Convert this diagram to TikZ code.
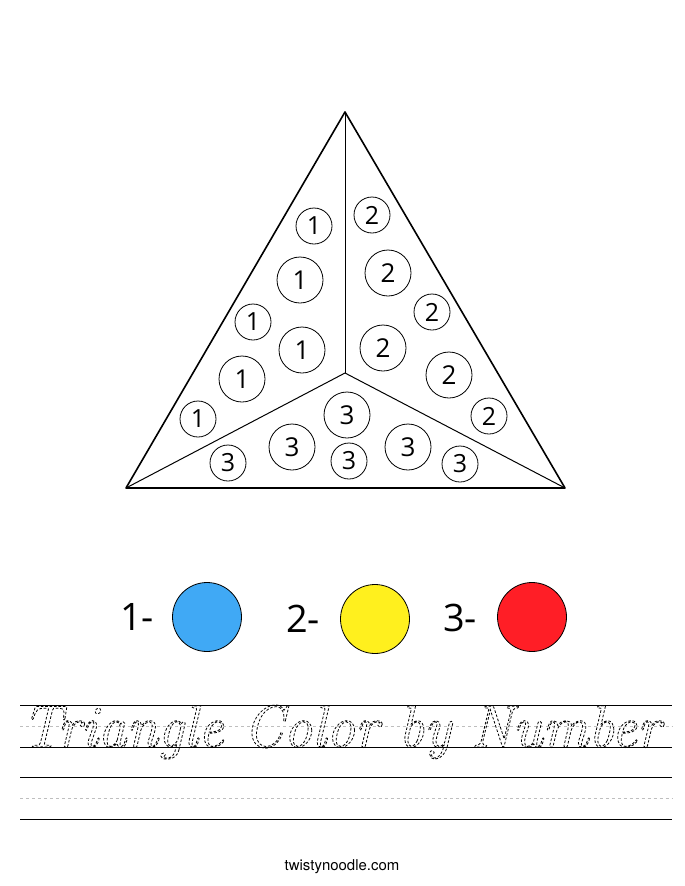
\documentclass[tikz,border=0pt]{standalone}
\usepackage{fontspec}
\setmainfont{Open Sans}
\newfontfamily\cursivefont[FakeStretch=0.955]{Latin Modern Roman}
\newfontfamily\sitefont{TeX Gyre Heros}
\definecolor{keyblue}{RGB}{64,169,245}
\definecolor{keyyellow}{RGB}{255,240,30}
\definecolor{keyred}{RGB}{255,30,38}
\definecolor{guidegray}{RGB}{190,190,190}
\tikzset{
    numcirc/.style={draw,circle,inner sep=0pt,line width=0.8bp,font=\fontsize{#1}{#1}\selectfont},
    smallcirc/.style={numcirc=25bp,minimum size=36bp},
    largecirc/.style={numcirc=26bp,minimum size=46bp},
    keycirc/.style={draw,circle,inner sep=0pt,minimum size=69bp,line width=0.8bp},
    keylabel/.style={font=\fontsize{38}{38}\selectfont,anchor=center},
    ruleline/.style={line width=0.9bp},
    guideline/.style={guidegray,dashed,line width=0.8bp},
    outeredge/.style={line width=1.6bp,line join=round},
    inneredge/.style={line width=1bp}
}
\begin{document}
\begin{tikzpicture}[x=1bp,y=-1bp]
    \useasboundingbox (0,0) rectangle (685,886);

    \coordinate (apex) at (345,112);
    \coordinate (left) at (126,488);
    \coordinate (right) at (565,488);
    \coordinate (mid) at (345,373);

    \draw[inneredge] (apex) -- (mid);
    \draw[inneredge] (left) -- (mid);
    \draw[inneredge] (right) -- (mid);
    \draw[outeredge] (apex) -- (left) -- (right) -- cycle;

    \node[smallcirc] (a1) at (314,226) {1};
    \node[largecirc] (a2) at (300,280) {1};
    \node[smallcirc] (a3) at (253,322) {1};
    \node[largecirc] (a4) at (302,350) {1};
    \node[largecirc] (a5) at (242,379) {1};
    \node[smallcirc] (a6) at (198,419) {1};

    \node[smallcirc] (b1) at (372,215) {2};
    \node[largecirc] (b2) at (388,273) {2};
    \node[smallcirc] (b3) at (432,312) {2};
    \node[largecirc] (b4) at (383,348) {2};
    \node[largecirc] (b5) at (449,375) {2};
    \node[smallcirc] (b6) at (489,416) {2};

    \node[largecirc] (c1) at (347,415) {3};
    \node[smallcirc] (c2) at (228,463) {3};
    \node[largecirc] (c3) at (292,447) {3};
    \node[smallcirc] (c4) at (349,461) {3};
    \node[largecirc] (c5) at (408,447) {3};
    \node[smallcirc] (c6) at (460,464) {3};

    \node[keylabel] (k1) at (137,617) {1-};
    \node[keycirc,fill=keyblue] (d1) at (207,617) {};
    \node[keylabel] (k2) at (303,619) {2-};
    \node[keycirc,fill=keyyellow] (d2) at (375,619) {};
    \node[keylabel] (k3) at (460,618) {3-};
    \node[keycirc,fill=keyred] (d3) at (532,617) {};

    \coordinate (r1l) at (20,705);
    \coordinate (r1r) at (672,705);
    \coordinate (r2l) at (20,747);
    \coordinate (r2r) at (672,747);
    \coordinate (r3l) at (20,777);
    \coordinate (r3r) at (672,777);
    \coordinate (r4l) at (20,819);
    \coordinate (r4r) at (672,819);
    \coordinate (g1l) at (20,726);
    \coordinate (g1r) at (672,726);
    \coordinate (g2l) at (20,798);
    \coordinate (g2r) at (672,798);

    \draw[ruleline] (r1l) -- (r1r);
    \draw[ruleline] (r2l) -- (r2r);
    \draw[ruleline] (r3l) -- (r3r);
    \draw[ruleline] (r4l) -- (r4r);
    \draw[guideline] (g1l) -- (g1r);
    \draw[guideline] (g2l) -- (g2r);

    \node[anchor=base,inner sep=0pt,font=\fontsize{60}{60}\cursivefont\itshape] (title) at (341,747)
        {\special{pdf:code q 1 Tr 0.8 w [2.6 1.8] 0 d}Triangle Color by Number\special{pdf:code Q}};

    \node[font=\fontsize{15}{15}\sitefont] (site) at (342,867) {twistynoodle.com};
\end{tikzpicture}
\end{document}
